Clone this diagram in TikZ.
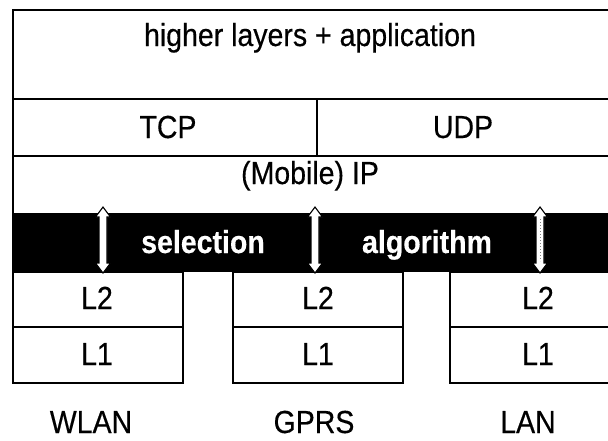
\documentclass[tikz,border=0pt]{standalone}
\usepackage{graphicx}
\usepackage{fontspec}
\setmainfont[FakeBold=0.4]{Liberation Sans}
\newfontfamily\barfont[FakeBold=0.4]{Liberation Sans Bold}
\usetikzlibrary{calc}

% white double-headed arrow with a thin black outline, tip to tip
\newcommand\selarrow[2]{%
  \filldraw[fill=white, draw=black, line width=1.1pt, line join=miter]
    (#1) -- ++(7.5,10) -- ++(-3.5,0) -- ($(#2)+(4,-10)$) -- ++(3.5,0)
    -- (#2) -- ++(-7.5,-10) -- ++(3.5,0) -- ($(#1)+(-4,10)$) -- ++(-3.5,0)
    -- cycle;}

% slightly tall sans lettering
\newcommand\tall[1]{\scalebox{1}[1.12]{#1}}

\tikzset{
  frame/.style={draw=black, line width=2.7pt},
  lbl/.style={font=\fontsize{28.5}{30}\selectfont, anchor=base, inner sep=0pt},
  barlbl/.style={lbl, font=\fontsize{28.5}{30}\selectfont\barfont, text=white},
}

\begin{document}
\begin{tikzpicture}[x=1pt, y=-1pt]
\useasboundingbox (0,0) rectangle (608,440);
\clip (0,0) rectangle (608,440);
\fill[white] (0,0) rectangle (608,440);

% protocol stack above the selection layer
\draw[frame] (13,10) rectangle (640,99);
\draw[frame] (13,99) rectangle (317,156);
\draw[frame] (317,99) rectangle (640,156);
\draw[frame] (640,156) -- (13,156) -- (13,215);

% selection algorithm bar
\fill[black] (11.65,213) rectangle (640,272);

% access networks: L2 over L1
\foreach \n/\l/\r in {w/13/183, g/233/403, n/450/640}{
  \draw[frame] (\l,272) rectangle (\r,327);
  \draw[frame] (\l,327) rectangle (\r,383);
}

% labels
\node[lbl] (hl)   at (310,46)  {\tall{higher layers + application}};
\node[lbl] (tcp)  at (168,138) {\tall{TCP}};
\node[lbl] (udp)  at (463,138) {\tall{UDP}};
\node[lbl] (ip)   at (310,184) {\tall{(Mobile) IP}};
\node[barlbl] (sel) at (203,253) {\tall{selection}};
\node[barlbl] (alg) at (427,253) {\tall{algorithm}};

\node[lbl] (wl2) at (97,309)  {\tall{L2}};
\node[lbl] (wl1) at (97,365)  {\tall{L1}};
\node[lbl] (gl2) at (318,309) {\tall{L2}};
\node[lbl] (gl1) at (318,365) {\tall{L1}};
\node[lbl] (nl2) at (538,309) {\tall{L2}};
\node[lbl] (nl1) at (538,365) {\tall{L1}};

\node[lbl] (wlan) at (91,433)  {\tall{WLAN}};
\node[lbl] (gprs) at (314,433) {\tall{GPRS}};
\node[lbl] (lan)  at (528,433) {\tall{LAN}};

% arrows between the IP layer and each L2
\coordinate (a1t) at (103,207); \coordinate (a1b) at (103,273);
\coordinate (a2t) at (315,207); \coordinate (a2b) at (315,273);
\coordinate (a3t) at (540,207); \coordinate (a3b) at (540,273);
\selarrow{a1t}{a1b}
\selarrow{a2t}{a2b}
\selarrow{a3t}{a3b}
\draw[gray, line width=0.8pt, dash pattern=on 1pt off 2pt]
  ($(a3t)+(0,12)$) -- ($(a3b)+(0,-12)$);
\end{tikzpicture}
\end{document}
